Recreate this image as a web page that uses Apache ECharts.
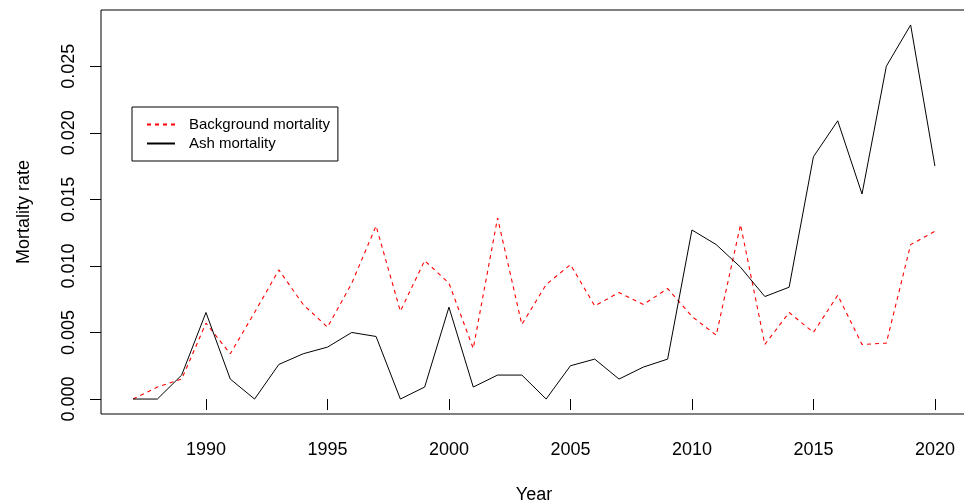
<!DOCTYPE html>
<html>
<head>
<meta charset="utf-8">
<script src="https://cdn.jsdelivr.net/npm/echarts@6/dist/echarts.min.js"></script>
<style>
html,body{margin:0;padding:0;background:#fff;}
#c{width:964px;height:504px;}
</style>
</head>
<body>
<div id="c"></div>
<script>
var years = [1987,1988,1989,1990,1991,1992,1993,1994,1995,1996,1997,1998,1999,2000,2001,2002,2003,2004,2005,2006,2007,2008,2009,2010,2011,2012,2013,2014,2015,2016,2017,2018,2019,2020];
var backgroundMortality = [0,0.0009,0.0015,0.0057,0.0034,0.0065,0.0097,0.0071,0.0054,0.0087,0.0130,0.0066,0.0104,0.0087,0.0038,0.0136,0.0056,0.0086,0.0101,0.0070,0.0080,0.0071,0.0083,0.0062,0.0048,0.0131,0.0041,0.0065,0.0050,0.0078,0.0041,0.0042,0.0116,0.0126];
var ashMortality = [0,0,0.0018,0.0065,0.0015,0,0.0026,0.0034,0.0039,0.0050,0.0047,0,0.0009,0.0069,0.0009,0.0018,0.0018,0,0.0025,0.0030,0.0015,0.0024,0.0030,0.0127,0.0116,0.0099,0.0077,0.0084,0.0182,0.0209,0.0154,0.0250,0.0281,0.0175];
var xTicks = [1990,1995,2000,2005,2010,2015,2020];
var yTicks = [0,0.005,0.010,0.015,0.020,0.025];
var seriesNames = ['Background mortality','Ash mortality'];

// R-style 4% axis extension
var xr = years[years.length-1]-years[0];
var xMin = years[0]-0.04*xr, xMax = years[years.length-1]+0.04*xr;
var allY = backgroundMortality.concat(ashMortality);
var yLo = Math.min.apply(null, allY), yHi = Math.max.apply(null, allY);
var yr = yHi-yLo;
var yMin = yLo-0.04*yr, yMax = yHi+0.04*yr;

function pairs(vals){ return years.map(function(y,i){return [y, vals[i]];}); }

var FONT = "'Liberation Sans', Arial, Helvetica, sans-serif";
var chart = echarts.init(document.getElementById('c'), null, {renderer:'canvas'});
chart.setOption({
  animation:false,
  backgroundColor:'#fff',
  grid:{left:101, top:10, width:866, height:404, outerBoundsMode:'none', containLabel:false,
        show:true, borderColor:'#000', borderWidth:1, backgroundColor:'transparent'},
  xAxis:{
    type:'value', min:xMin, max:xMax,
    name:'Year', nameLocation:'middle', nameGap:72,
    nameTextStyle:{fontFamily:FONT, fontSize:18, color:'#000'},
    axisLine:{show:false},
    splitLine:{show:false},
    axisTick:{show:true, length:11, customValues:xTicks, lineStyle:{color:'#000', width:1}},
    axisLabel:{show:true, customValues:xTicks, margin:27, fontFamily:FONT, fontSize:18, color:'#000',
      formatter:function(v){return String(v);}}
  },
  yAxis:{
    type:'value', min:yMin, max:yMax,
    name:'Mortality rate', nameLocation:'middle', nameGap:68,
    nameTextStyle:{fontFamily:FONT, fontSize:18, color:'#000'},
    axisLine:{show:false},
    splitLine:{show:false},
    axisTick:{show:true, length:11, customValues:yTicks, lineStyle:{color:'#000', width:1}},
    axisLabel:{show:true, customValues:yTicks, rotate:90, margin:23, fontFamily:FONT, fontSize:18, color:'#000',
      formatter:function(v){return v.toFixed(3);}}
  },
  legend:{
    show:true, left:132, top:107, orient:'vertical',
    data:seriesNames,
    itemStyle:{opacity:0, borderWidth:0},
    borderColor:'#000', borderWidth:1, borderRadius:0,
    padding:[8,8,8,14],
    itemGap:0, itemWidth:28, itemHeight:14,
    textStyle:{fontFamily:FONT, fontSize:15, color:'#000', lineHeight:19, padding:[0,0,0,9]},
    selectedMode:false
  },
  series:[
    {name:seriesNames[0], type:'line', data:pairs(backgroundMortality), symbol:'none', showSymbol:false,
     lineStyle:{color:'#ff0000', width:1.1, type:[4,4]}, itemStyle:{color:'#ff0000'}},
    {name:seriesNames[1], type:'line', data:pairs(ashMortality), symbol:'none', showSymbol:false,
     lineStyle:{color:'#000000', width:1, type:'solid'}, itemStyle:{color:'#000000'}}
  ]
});
</script>
</body>
</html>
